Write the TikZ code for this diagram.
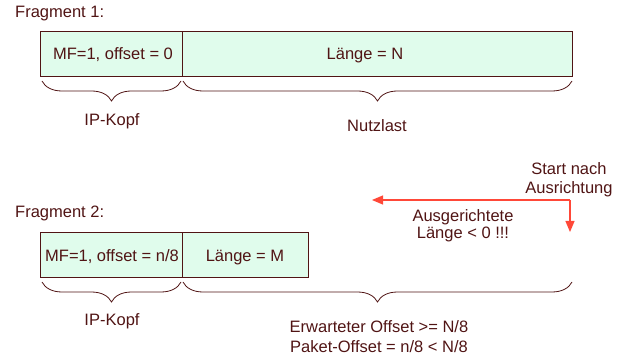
\documentclass[tikz,border=0pt]{standalone}
\usepackage{fontspec}
\setmainfont{Liberation Sans}
\usetikzlibrary{arrows.meta,positioning,decorations.pathreplacing}
\definecolor{ink}{RGB}{80,20,20}
\definecolor{mint}{RGB}{224,252,236}
\definecolor{alert}{RGB}{255,72,56}
\tikzset{
    field/.style={rectangle,draw=ink,fill=mint,line width=0.8pt,minimum height=45pt,inner sep=0pt,outer sep=0pt},
    txt/.style={text=ink,font=\fontsize{16.5}{19}\selectfont,align=center,inner sep=0pt,anchor=base},
    bracket/.style={draw=ink,line width=0.8pt,decorate,decoration={brace,mirror,amplitude=20pt}},
    warn/.style={-{Triangle[length=11pt,width=9pt]},draw=alert,line width=1.2pt}
}
\begin{document}
\begin{tikzpicture}[x=1pt,y=-1pt]
    \useasboundingbox (0,0) rectangle (625,358);

    % fragment 1
    \node[txt,anchor=base west] (frag1) at (15,18) {Fragment 1:};
    \node[field,minimum width=142pt,anchor=north west] (hdr1) at (40,31) {};
    \node[field,minimum width=390pt,right=0pt of hdr1] (pay1) {};
    \node[txt] (mf1) at (113,60) {MF=1, offset = 0};
    \node[txt] (len1) at (365,60) {Länge = N};

    \draw[bracket] ([shift={(2pt,-5pt)}]hdr1.south west) -- ([shift={(-1pt,-5pt)}]hdr1.south east);
    \draw[bracket] ([shift={(1pt,-5pt)}]pay1.south west) -- ([yshift=-5pt]pay1.south east);
    \node[txt] (kopf1) at (112,126) {IP-Kopf};
    \node[txt] (nutz1) at (377,132) {Nutzlast};

    % fragment 2
    \node[txt,anchor=base west] (frag2) at (15,218) {Fragment 2:};
    \node[field,minimum width=142pt,anchor=north west] (hdr2) at (40,232) {};
    \node[field,minimum width=126pt,right=0pt of hdr2] (pay2) {};
    \node[txt] (mf2) at (112,262) {MF=1, offset = n/8};
    \node[txt] (len2) at (245,262) {Länge = M};
    \coordinate (tail2) at (pay1.south east |- pay2.south);

    \draw[bracket] ([shift={(2pt,-5pt)}]hdr2.south west) -- ([shift={(-1pt,-5pt)}]hdr2.south east);
    \draw[bracket] ([shift={(1pt,-5pt)}]pay2.south west) -- ([yshift=-5pt]tail2);
    \node[txt] (kopf2) at (112,326) {IP-Kopf};
    \node[txt] (offs2) at (379,353) {Erwarteter Offset >= N/8\\[1pt]Paket-Offset = n/8 < N/8};

    % alignment (base of a two-line node is its last line)
    \node[txt] (start) at (569,194) {Start nach\\Ausrichtung};
    \node[txt] (neg) at (463,239) {Ausgerichtete\\[-1.5pt]Länge < 0 !!!};
    \coordinate (bend) at (570,200);
    \coordinate (back) at (372,200);
    \coordinate (drop) at (570,232);
    \draw[warn] (bend) -- (back);
    \draw[warn] (bend) -- (drop);

\end{tikzpicture}
\end{document}
